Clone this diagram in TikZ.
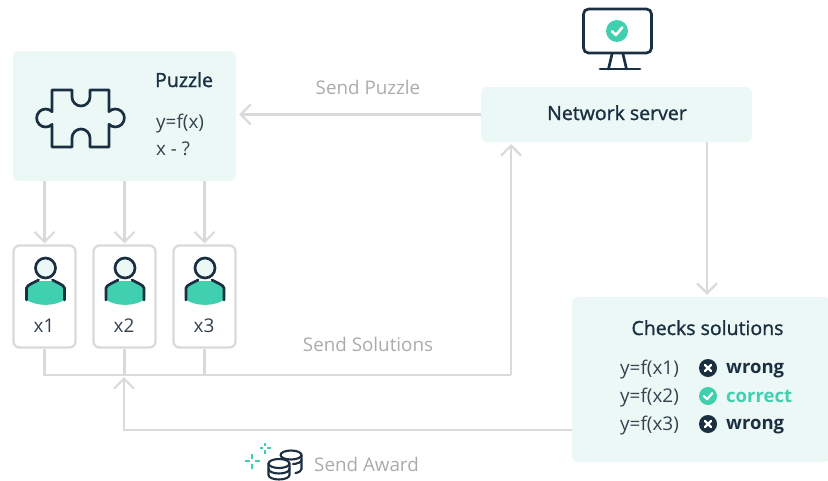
\documentclass[tikz,border=0pt]{standalone}
\usepackage{fontspec}
\setmainfont{Open Sans}
\newfontfamily\semibold[FakeBold=1.3]{Open Sans}
\usetikzlibrary{arrows.meta}
\definecolor{boxfill}{HTML}{ECF8F6}
\definecolor{inkdark}{HTML}{1B2F42}
\definecolor{inktext}{HTML}{33424F}
\definecolor{tealfill}{HTML}{40D0B0}
\definecolor{wiregrey}{HTML}{DADADA}
\definecolor{labelgrey}{HTML}{ABABAB}
\tikzset{
	panel/.style={fill=boxfill, rounded corners=6pt, inner sep=0pt},
	minerbox/.style={draw=wiregrey, fill=white, line width=2.2pt, rounded corners=6pt, minimum width=62pt, minimum height=102pt, inner sep=0pt},
	wire/.style={draw=wiregrey, line width=2.2pt},
	head/.style={wire, -{Straight Barb[length=10pt,width=20pt]}},
	icon/.style={draw=inkdark, line width=2.7pt, line join=round, line cap=round},
	coinline/.style={icon, line width=2.1pt},
	plain/.style={font=\fontsize{18.9}{20}\selectfont, text=inktext, inner sep=0pt},
	strong/.style={font=\fontsize{19.5}{20}\semibold, text=inkdark, inner sep=0pt},
	verdict/.style={font=\fontsize{18.5}{20}\bfseries, text=inkdark, inner sep=0pt, anchor=base west},
	sendlabel/.style={font=\fontsize{18.8}{20}\selectfont, text=labelgrey, inner sep=0pt, anchor=base},
	spark/.style={draw=tealfill, line width=1.3pt}
}
\begin{document}
\begin{tikzpicture}[x=1pt,y=-1pt]
	\def\usericon#1{
		\fill[tealfill] (#1-19,287) -- (#1-9,281) -- (#1+9,281) -- (#1+19,287) -- (#1+19,300) .. controls (#1+8,306.5) and (#1-8,306.5) .. (#1-19,300) -- cycle;
		\draw[icon] (#1-19,300) -- (#1-19,288) .. controls (#1-19,285) and (#1-10,282) .. (#1-7,280);
		\draw[icon] (#1+19,300) -- (#1+19,288) .. controls (#1+19,285) and (#1+10,282) .. (#1+7,280);
		\draw[icon, fill=boxfill] (#1,268) circle (10);
	}
	\def\okmark#1#2#3{
		\fill[tealfill] (#1,#2) circle (#3);
		\draw[white, line width=0.24*#3 pt, line cap=round, line join=round] (#1-0.45*#3,#2+0.02*#3) -- (#1-0.1*#3,#2+0.36*#3) -- (#1+0.48*#3,#2-0.32*#3);
	}
	\def\crossmark#1#2{
		\fill[inkdark] (#1,#2) circle (9);
		\draw[white, line width=2.4pt, line cap=round] (#1-3,#2-3) -- (#1+3,#2+3);
		\draw[white, line width=2.4pt, line cap=round] (#1-3,#2+3) -- (#1+3,#2-3);
	}
	\useasboundingbox (0,0) rectangle (828,480);

	\node[panel, minimum width=223pt, minimum height=130pt] (puzzle) at (124.5,116) {};
	\node[panel, minimum width=271pt, minimum height=55pt] (server) at (616.5,114.5) {};
	\node[panel, minimum width=258pt, minimum height=165pt] (checks) at (701,379.5) {};
	\node[minerbox] (x1) at (44.5,296.5) {};
	\node[minerbox] (x2) at (124.5,296.5) {};
	\node[minerbox] (x3) at (204.5,296.5) {};
	\coordinate (busend) at (511,375);
	\coordinate (serverin) at (511,144);
	\coordinate (serverout) at (707,142);
	\coordinate (awardout) at (572,430);
	\coordinate (awardin) at (124,377);

	\node[strong, anchor=base west] (puzzletitle) at (155,87) {Puzzle};
	\node[plain, anchor=base west] (puzzleeq) at (156,128) {y=f(x)};
	\node[plain, anchor=base west] (puzzleask) at (156,155) {x - ?};
	\node[strong, anchor=base] (servertitle) at (617,120) {Network server};
	\node[strong, anchor=base] (checkstitle) at (707.5,335) {Checks solutions};
	\node[plain, anchor=base] (labelx1) at (44,332) {x1};
	\node[plain, anchor=base] (labelx2) at (124,332) {x2};
	\node[plain, anchor=base] (labelx3) at (204,332) {x3};
	\node[plain, anchor=base west] (eq1) at (620,374) {y=f(x1)};
	\node[plain, anchor=base west] (eq2) at (620,402) {y=f(x2)};
	\node[plain, anchor=base west] (eq3) at (620,430) {y=f(x3)};
	\node[verdict] (res1) at (726,373.5) {wrong};
	\node[verdict, text=tealfill] (res2) at (726,402) {correct};
	\node[verdict] (res3) at (726,429.5) {wrong};
	\node[sendlabel] (sendpuzzle) at (368,94) {Send Puzzle};
	\node[sendlabel] (sendsolutions) at (368,351) {Send Solutions};
	\node[sendlabel] (sendaward) at (366.5,471) {Send Award};

	\draw[head] (server.west) -- ([xshift=3pt]puzzle.east |- server.west);
	\draw[head] (puzzle.south -| x1.north) -- ([yshift=1pt]x1.north);
	\draw[head] (puzzle.south -| x2.north) -- ([yshift=1pt]x2.north);
	\draw[head] (puzzle.south -| x3.north) -- ([yshift=1pt]x3.north);
	\draw[head] (serverout) -- ([yshift=2pt]serverout |- checks.north);
	\draw[wire] (x1.south) |- (busend);
	\draw[wire] (x2.south) -- (x2.south |- busend);
	\draw[wire] (x3.south) -- (x3.south |- busend);
	\draw[head] (busend) -- (serverin);
	\draw[head] (awardout) -| (awardin);

	\draw[icon] (52,90) -- (72,90) -- (72,97) arc[start angle=180, end angle=0, radius=9] -- (90,90) -- (109,90) -- (109,111.6) arc[start angle=-135, end angle=135, radius=9] -- (109,147) -- (90,147) -- (90,138) arc[start angle=0, end angle=-180, radius=9] -- (72,147) -- (52,147) -- (52,124.4) arc[start angle=45, end angle=315, radius=9] -- cycle;

	\usericon{45.5}
	\usericon{125}
	\usericon{205}

	\draw[icon, rounded corners=5pt] (583.5,9) rectangle (651.5,53);
	\okmark{617}{31}{11}
	\draw[icon] (612,54) -- (608.5,69);
	\draw[icon] (623,54) -- (626.5,69);
	\draw[icon] (600,69) -- (640,69);

	\crossmark{708}{368}
	\okmark{708}{396}{9}
	\crossmark{708}{424}

	\draw[spark] (265,442.5) -- (265,446);
	\draw[spark] (265,450) -- (265,453.5);
	\draw[spark] (259.5,448) -- (263,448);
	\draw[spark] (267,448) -- (270.5,448);
	\draw[spark] (252,453.5) -- (252,458.5);
	\draw[spark] (252,463.5) -- (252,468.5);
	\draw[spark] (244.5,461) -- (249.5,461);
	\draw[spark] (254.5,461) -- (259.5,461);

	\draw[coinline] (291,455) ellipse (10.5 and 4.5);
	\draw[coinline] (301.5,455) -- (301.5,469) arc[start angle=0, end angle=65, x radius=10.5, y radius=4.5];
	\draw[coinline] (293,464) .. controls (297,464) and (301.5,462) .. (301.5,460);
	\draw[coinline] (279,463.5) ellipse (10.5 and 4.5);
	\draw[coinline] (268.5,463.5) -- (268.5,475) arc[start angle=180, end angle=0, x radius=10.5, y radius=4.5] -- (289.5,463.5);
	\draw[coinline] (268.5,469) arc[start angle=180, end angle=0, x radius=10.5, y radius=4.5];
\end{tikzpicture}
\end{document}
